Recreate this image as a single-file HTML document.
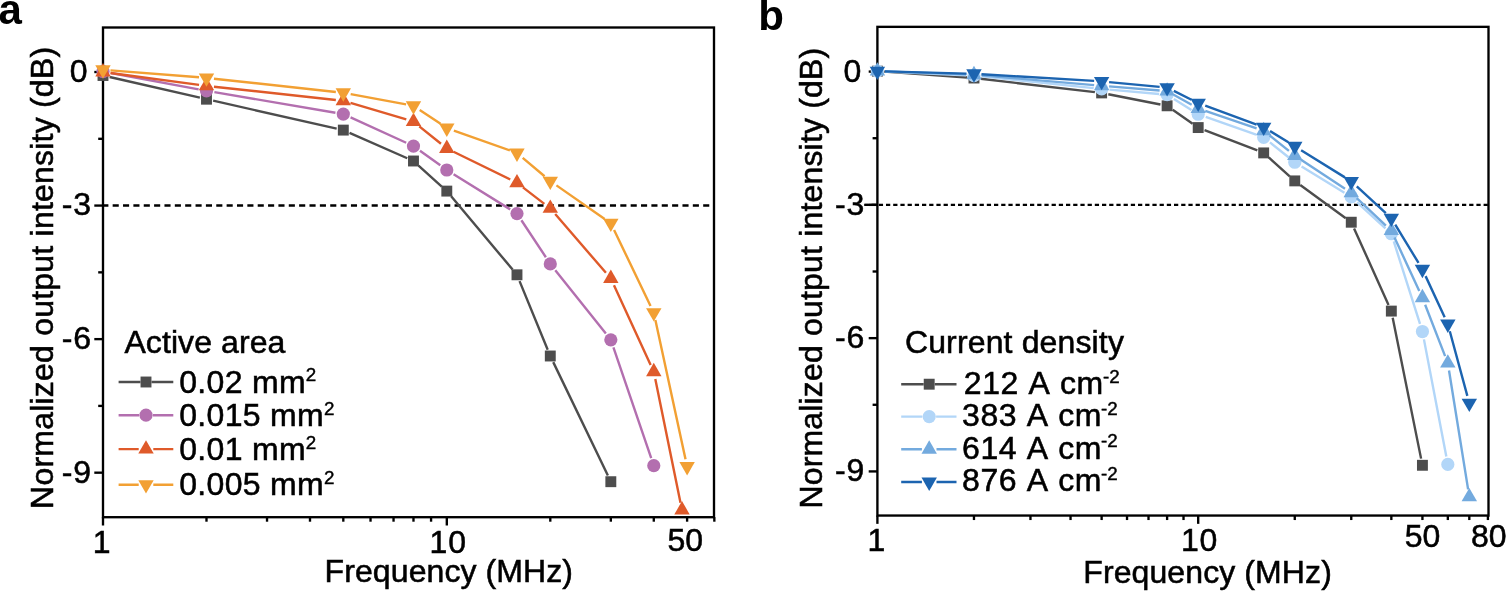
<!DOCTYPE html>
<html><head><meta charset="utf-8"><title>Figure</title>
<style>
html,body{margin:0;padding:0;background:#fff;}
svg{display:block}
text{font-family:'Liberation Sans', Arial, Helvetica, sans-serif;font-kerning:none;fill:#000}
.t{font-size:32px;stroke:#000;stroke-width:0.55px}
.s{font-size:18.8px;stroke:#000;stroke-width:0.45px}
.b{font-size:42px;font-weight:bold}
</style></head><body>
<svg width="1506" height="591" viewBox="0 0 1506 591">
<rect width="1506" height="591" fill="#fff"/>
<rect x="103.00" y="27.50" width="611.00" height="489.70" fill="none" stroke="#000" stroke-width="2.35"/>
<line x1="94.30" y1="72.02" x2="103.00" y2="72.02" stroke="#000" stroke-width="2.35"/>
<line x1="94.30" y1="205.57" x2="103.00" y2="205.57" stroke="#000" stroke-width="2.35"/>
<line x1="94.30" y1="339.13" x2="103.00" y2="339.13" stroke="#000" stroke-width="2.35"/>
<line x1="94.30" y1="472.68" x2="103.00" y2="472.68" stroke="#000" stroke-width="2.35"/>
<line x1="98.20" y1="138.80" x2="103.00" y2="138.80" stroke="#000" stroke-width="2.35"/>
<line x1="98.20" y1="272.35" x2="103.00" y2="272.35" stroke="#000" stroke-width="2.35"/>
<line x1="98.20" y1="405.90" x2="103.00" y2="405.90" stroke="#000" stroke-width="2.35"/>
<line x1="103.00" y1="517.20" x2="103.00" y2="525.50" stroke="#000" stroke-width="2.35"/>
<line x1="446.80" y1="517.20" x2="446.80" y2="525.50" stroke="#000" stroke-width="2.35"/>
<line x1="206.49" y1="517.20" x2="206.49" y2="521.70" stroke="#000" stroke-width="2.35"/>
<line x1="267.03" y1="517.20" x2="267.03" y2="521.70" stroke="#000" stroke-width="2.35"/>
<line x1="309.99" y1="517.20" x2="309.99" y2="521.70" stroke="#000" stroke-width="2.35"/>
<line x1="343.31" y1="517.20" x2="343.31" y2="521.70" stroke="#000" stroke-width="2.35"/>
<line x1="370.53" y1="517.20" x2="370.53" y2="521.70" stroke="#000" stroke-width="2.35"/>
<line x1="393.54" y1="517.20" x2="393.54" y2="521.70" stroke="#000" stroke-width="2.35"/>
<line x1="413.48" y1="517.20" x2="413.48" y2="521.70" stroke="#000" stroke-width="2.35"/>
<line x1="431.07" y1="517.20" x2="431.07" y2="521.70" stroke="#000" stroke-width="2.35"/>
<line x1="550.29" y1="517.20" x2="550.29" y2="521.70" stroke="#000" stroke-width="2.35"/>
<line x1="610.83" y1="517.20" x2="610.83" y2="521.70" stroke="#000" stroke-width="2.35"/>
<line x1="653.79" y1="517.20" x2="653.79" y2="521.70" stroke="#000" stroke-width="2.35"/>
<line x1="687.11" y1="517.20" x2="687.11" y2="521.70" stroke="#000" stroke-width="2.35"/>
<line x1="714.33" y1="517.20" x2="714.33" y2="521.70" stroke="#000" stroke-width="2.35"/>
<line x1="102.30" y1="205.57" x2="714.00" y2="205.57" stroke="#000" stroke-width="2.4" stroke-dasharray="6.1 4.26"/>
<path d="M109.63 77.02L199.87 97.68M213.13 100.70L336.67 128.60M349.53 132.84L407.26 158.26M418.53 165.56L441.75 186.54M451.17 196.31L512.61 269.59M519.56 281.09L547.71 349.71M553.24 362.13L607.88 475.57" fill="none" stroke="#4D4D4D" stroke-width="2.4"/>
<rect x="97.55" y="70.05" width="10.90" height="10.90" fill="#4D4D4D"/>
<rect x="201.04" y="93.75" width="10.90" height="10.90" fill="#4D4D4D"/>
<rect x="337.86" y="124.65" width="10.90" height="10.90" fill="#4D4D4D"/>
<rect x="408.03" y="155.55" width="10.90" height="10.90" fill="#4D4D4D"/>
<rect x="441.35" y="185.65" width="10.90" height="10.90" fill="#4D4D4D"/>
<rect x="511.53" y="269.35" width="10.90" height="10.90" fill="#4D4D4D"/>
<rect x="544.84" y="350.55" width="10.90" height="10.90" fill="#4D4D4D"/>
<rect x="605.38" y="476.25" width="10.90" height="10.90" fill="#4D4D4D"/>
<path d="M110.86 72.97L198.63 89.33M214.38 92.14L335.42 112.76M350.58 117.42L406.20 142.78M419.98 150.76L440.30 165.34M453.60 174.22L510.18 209.38M521.39 220.27L545.88 257.23M555.28 270.15L605.85 333.55M613.42 347.37L651.21 458.13" fill="none" stroke="#B36FAF" stroke-width="2.4"/>
<circle cx="103.00" cy="71.50" r="6.6" fill="#B36FAF"/>
<circle cx="206.49" cy="90.80" r="6.6" fill="#B36FAF"/>
<circle cx="343.31" cy="114.10" r="6.6" fill="#B36FAF"/>
<circle cx="413.48" cy="146.10" r="6.6" fill="#B36FAF"/>
<circle cx="446.80" cy="170.00" r="6.6" fill="#B36FAF"/>
<circle cx="516.98" cy="213.60" r="6.6" fill="#B36FAF"/>
<circle cx="550.29" cy="263.90" r="6.6" fill="#B36FAF"/>
<circle cx="610.83" cy="339.80" r="6.6" fill="#B36FAF"/>
<circle cx="653.79" cy="465.70" r="6.6" fill="#B36FAF"/>
<path d="M110.43 73.00L199.06 84.90M213.95 86.71L335.85 99.99M350.50 102.93L406.29 119.47M419.32 126.31L440.96 143.79M453.54 151.79L510.24 179.51M522.92 187.37L544.35 203.83M555.20 214.08L605.93 272.82M613.97 285.31L650.65 364.89M655.29 379.05L680.50 502.65" fill="none" stroke="#DF5A2A" stroke-width="2.4"/>
<polygon points="103.00,63.10 110.71,76.45 95.29,76.45" fill="#DF5A2A"/>
<polygon points="206.49,77.00 214.20,90.35 198.79,90.35" fill="#DF5A2A"/>
<polygon points="343.31,91.90 351.01,105.25 335.60,105.25" fill="#DF5A2A"/>
<polygon points="413.48,112.70 421.19,126.05 405.77,126.05" fill="#DF5A2A"/>
<polygon points="446.80,139.60 454.51,152.95 439.09,152.95" fill="#DF5A2A"/>
<polygon points="516.98,173.90 524.68,187.25 509.27,187.25" fill="#DF5A2A"/>
<polygon points="550.29,199.50 558.00,212.85 542.59,212.85" fill="#DF5A2A"/>
<polygon points="610.83,269.60 618.54,282.95 603.13,282.95" fill="#DF5A2A"/>
<polygon points="653.79,362.80 661.50,376.15 646.08,376.15" fill="#DF5A2A"/>
<polygon points="682.00,501.10 689.71,514.45 674.29,514.45" fill="#DF5A2A"/>
<path d="M110.48 70.39L199.02 77.31M213.95 78.71L335.85 91.99M350.68 94.17L406.11 104.43M419.72 109.96L440.56 123.84M453.87 130.52L509.91 150.48M522.71 157.84L544.56 176.26M556.45 185.38L604.68 218.92M614.08 229.96L650.54 305.94M655.38 320.03L685.52 459.17" fill="none" stroke="#F2A033" stroke-width="2.4"/>
<polygon points="103.00,78.70 110.71,65.35 95.29,65.35" fill="#F2A033"/>
<polygon points="206.49,86.80 214.20,73.45 198.79,73.45" fill="#F2A033"/>
<polygon points="343.31,101.70 351.01,88.35 335.60,88.35" fill="#F2A033"/>
<polygon points="413.48,114.70 421.19,101.35 405.77,101.35" fill="#F2A033"/>
<polygon points="446.80,136.90 454.51,123.55 439.09,123.55" fill="#F2A033"/>
<polygon points="516.98,161.90 524.68,148.55 509.27,148.55" fill="#F2A033"/>
<polygon points="550.29,190.00 558.00,176.65 542.59,176.65" fill="#F2A033"/>
<polygon points="610.83,232.10 618.54,218.75 603.13,218.75" fill="#F2A033"/>
<polygon points="653.79,321.60 661.50,308.25 646.08,308.25" fill="#F2A033"/>
<polygon points="687.11,475.40 694.81,462.05 679.40,462.05" fill="#F2A033"/>
<text x="69.85" y="81.92" class="t">0</text>
<text x="61.70" y="215.47" class="t" textLength="29.40" lengthAdjust="spacing">-3</text>
<text x="61.70" y="349.03" class="t" textLength="29.40" lengthAdjust="spacing">-6</text>
<text x="61.70" y="482.58" class="t" textLength="29.40" lengthAdjust="spacing">-9</text>
<text x="92.70" y="553.30" class="t">1</text>
<text x="429.60" y="553.30" class="t" textLength="36.40" lengthAdjust="spacing">10</text>
<text x="667.50" y="550.80" class="t">50</text>
<text x="324.60" y="582.40" class="t" textLength="248.40" lengthAdjust="spacing">Frequency (MHz)</text>
<text transform="translate(52.80,508.90) rotate(-90)" class="t" textLength="462.00" lengthAdjust="spacing">Normalized output intensity (dB)</text>
<text x="124.40" y="353.00" class="t" textLength="161.00" lengthAdjust="spacing">Active area</text>
<path d="M118.60 382.00H140.50M151.50 382.00H173.30" stroke="#4D4D4D" stroke-width="2.4"/>
<rect x="140.55" y="376.55" width="10.90" height="10.90" fill="#4D4D4D"/>
<text x="179.25" y="392.60" class="t" textLength="126.30" lengthAdjust="spacing">0.02 mm</text>
<text x="305.85" y="381.40" class="s">2</text>
<path d="M118.60 415.20H139.10M152.90 415.20H173.30" stroke="#B36FAF" stroke-width="2.4"/>
<circle cx="146.00" cy="415.20" r="6.6" fill="#B36FAF"/>
<text x="179.25" y="426.30" class="t" textLength="144.45" lengthAdjust="spacing">0.015 mm</text>
<text x="324.00" y="415.10" class="s">2</text>
<path d="M118.60 449.10H138.70M153.30 449.10H173.30" stroke="#DF5A2A" stroke-width="2.4"/>
<polygon points="146.00,440.20 153.71,453.55 138.29,453.55" fill="#DF5A2A"/>
<text x="179.25" y="460.00" class="t" textLength="126.30" lengthAdjust="spacing">0.01 mm</text>
<text x="305.85" y="448.80" class="s">2</text>
<path d="M118.60 484.70H138.70M153.30 484.70H173.30" stroke="#F2A033" stroke-width="2.4"/>
<polygon points="146.00,493.60 153.71,480.25 138.29,480.25" fill="#F2A033"/>
<text x="179.25" y="495.30" class="t" textLength="144.45" lengthAdjust="spacing">0.005 mm</text>
<text x="324.00" y="484.10" class="s">2</text>
<text x="-1.60" y="24.20" class="b">a</text>
<rect x="877.40" y="26.85" width="611.10" height="488.70" fill="none" stroke="#000" stroke-width="2.35"/>
<line x1="868.70" y1="71.58" x2="877.40" y2="71.58" stroke="#000" stroke-width="2.35"/>
<line x1="868.70" y1="204.86" x2="877.40" y2="204.86" stroke="#000" stroke-width="2.35"/>
<line x1="868.70" y1="338.14" x2="877.40" y2="338.14" stroke="#000" stroke-width="2.35"/>
<line x1="868.70" y1="471.42" x2="877.40" y2="471.42" stroke="#000" stroke-width="2.35"/>
<line x1="872.60" y1="138.22" x2="877.40" y2="138.22" stroke="#000" stroke-width="2.35"/>
<line x1="872.60" y1="271.50" x2="877.40" y2="271.50" stroke="#000" stroke-width="2.35"/>
<line x1="872.60" y1="404.78" x2="877.40" y2="404.78" stroke="#000" stroke-width="2.35"/>
<line x1="877.40" y1="515.55" x2="877.40" y2="523.85" stroke="#000" stroke-width="2.35"/>
<line x1="1198.20" y1="515.55" x2="1198.20" y2="523.85" stroke="#000" stroke-width="2.35"/>
<line x1="973.97" y1="515.55" x2="973.97" y2="520.05" stroke="#000" stroke-width="2.35"/>
<line x1="1030.46" y1="515.55" x2="1030.46" y2="520.05" stroke="#000" stroke-width="2.35"/>
<line x1="1070.54" y1="515.55" x2="1070.54" y2="520.05" stroke="#000" stroke-width="2.35"/>
<line x1="1101.63" y1="515.55" x2="1101.63" y2="520.05" stroke="#000" stroke-width="2.35"/>
<line x1="1127.03" y1="515.55" x2="1127.03" y2="520.05" stroke="#000" stroke-width="2.35"/>
<line x1="1148.51" y1="515.55" x2="1148.51" y2="520.05" stroke="#000" stroke-width="2.35"/>
<line x1="1167.11" y1="515.55" x2="1167.11" y2="520.05" stroke="#000" stroke-width="2.35"/>
<line x1="1183.52" y1="515.55" x2="1183.52" y2="520.05" stroke="#000" stroke-width="2.35"/>
<line x1="1294.77" y1="515.55" x2="1294.77" y2="520.05" stroke="#000" stroke-width="2.35"/>
<line x1="1351.26" y1="515.55" x2="1351.26" y2="520.05" stroke="#000" stroke-width="2.35"/>
<line x1="1391.34" y1="515.55" x2="1391.34" y2="520.05" stroke="#000" stroke-width="2.35"/>
<line x1="1422.43" y1="515.55" x2="1422.43" y2="520.05" stroke="#000" stroke-width="2.35"/>
<line x1="1447.83" y1="515.55" x2="1447.83" y2="520.05" stroke="#000" stroke-width="2.35"/>
<line x1="1469.31" y1="515.55" x2="1469.31" y2="520.05" stroke="#000" stroke-width="2.35"/>
<line x1="1487.91" y1="515.55" x2="1487.91" y2="520.05" stroke="#000" stroke-width="2.35"/>
<line x1="864.40" y1="204.86" x2="1488.50" y2="204.86" stroke="#000" stroke-width="2.15" stroke-dasharray="4.25 2.95"/>
<line x1="864.40" y1="204.86" x2="877.40" y2="204.86" stroke="#000" stroke-width="2.15"/>
<path d="M884.18 71.62L967.19 77.54M980.72 78.81L1094.88 92.12M1108.30 94.22L1160.44 104.48M1172.68 109.70L1192.63 123.67M1204.54 130.02L1257.34 150.45M1268.73 157.45L1289.72 176.34M1300.26 184.91L1345.77 218.21M1354.06 228.42L1388.55 304.89M1392.68 317.76L1421.09 458.62" fill="none" stroke="#4D4D4D" stroke-width="2.4"/>
<rect x="871.95" y="65.69" width="10.90" height="10.90" fill="#4D4D4D"/>
<rect x="968.52" y="72.57" width="10.90" height="10.90" fill="#4D4D4D"/>
<rect x="1096.18" y="87.46" width="10.90" height="10.90" fill="#4D4D4D"/>
<rect x="1161.66" y="100.35" width="10.90" height="10.90" fill="#4D4D4D"/>
<rect x="1192.75" y="122.12" width="10.90" height="10.90" fill="#4D4D4D"/>
<rect x="1258.23" y="147.45" width="10.90" height="10.90" fill="#4D4D4D"/>
<rect x="1289.32" y="175.44" width="10.90" height="10.90" fill="#4D4D4D"/>
<rect x="1345.81" y="216.77" width="10.90" height="10.90" fill="#4D4D4D"/>
<rect x="1385.89" y="305.64" width="10.90" height="10.90" fill="#4D4D4D"/>
<rect x="1416.98" y="459.84" width="10.90" height="10.90" fill="#4D4D4D"/>
<path d="M885.39 71.50L965.98 75.21M981.93 76.41L1093.67 88.08M1109.60 89.61L1159.14 93.98M1173.88 98.95L1191.43 109.98M1205.74 116.90L1256.14 134.68M1269.93 142.35L1288.52 157.23M1301.59 166.41L1344.44 192.71M1357.15 202.31L1385.45 228.36M1393.77 241.40L1420.01 323.91M1423.93 339.39L1446.33 456.54" fill="none" stroke="#B2D6F8" stroke-width="2.4"/>
<circle cx="877.40" cy="71.14" r="6.6" fill="#B2D6F8"/>
<circle cx="973.97" cy="75.58" r="6.6" fill="#B2D6F8"/>
<circle cx="1101.63" cy="88.91" r="6.6" fill="#B2D6F8"/>
<circle cx="1167.11" cy="94.69" r="6.6" fill="#B2D6F8"/>
<circle cx="1198.20" cy="114.24" r="6.6" fill="#B2D6F8"/>
<circle cx="1263.68" cy="137.35" r="6.6" fill="#B2D6F8"/>
<circle cx="1294.77" cy="162.23" r="6.6" fill="#B2D6F8"/>
<circle cx="1351.26" cy="196.89" r="6.6" fill="#B2D6F8"/>
<circle cx="1391.34" cy="233.77" r="6.6" fill="#B2D6F8"/>
<circle cx="1422.43" cy="331.53" r="6.6" fill="#B2D6F8"/>
<circle cx="1447.83" cy="464.40" r="6.6" fill="#B2D6F8"/>
<path d="M884.89 71.41L966.48 74.42M981.44 75.34L1094.16 85.15M1109.10 86.41L1159.64 90.52M1173.66 94.78L1191.65 104.81M1205.30 110.87L1256.58 128.27M1269.54 135.37L1288.92 150.88M1301.03 159.70L1345.00 188.76M1356.72 198.04L1385.88 225.52M1394.49 237.47L1419.28 290.96M1425.15 304.75L1445.11 356.09M1449.02 370.49L1468.12 489.43" fill="none" stroke="#73AADE" stroke-width="2.4"/>
<polygon points="877.40,62.24 885.11,75.59 869.69,75.59" fill="#73AADE"/>
<polygon points="973.97,65.79 981.68,79.14 966.26,79.14" fill="#73AADE"/>
<polygon points="1101.63,76.90 1109.34,90.25 1093.92,90.25" fill="#73AADE"/>
<polygon points="1167.11,82.23 1174.82,95.58 1159.40,95.58" fill="#73AADE"/>
<polygon points="1198.20,99.56 1205.91,112.91 1190.49,112.91" fill="#73AADE"/>
<polygon points="1263.68,121.78 1271.39,135.13 1255.97,135.13" fill="#73AADE"/>
<polygon points="1294.77,146.67 1302.48,160.02 1287.06,160.02" fill="#73AADE"/>
<polygon points="1351.26,183.99 1358.97,197.34 1343.55,197.34" fill="#73AADE"/>
<polygon points="1391.34,221.76 1399.05,235.11 1383.63,235.11" fill="#73AADE"/>
<polygon points="1422.43,288.86 1430.14,302.21 1414.72,302.21" fill="#73AADE"/>
<polygon points="1447.83,354.18 1455.54,367.53 1440.12,367.53" fill="#73AADE"/>
<polygon points="1469.31,487.94 1477.02,501.29 1461.60,501.29" fill="#73AADE"/>
<path d="M884.90 71.34L966.47 73.60M981.46 74.25L1094.14 80.91M1109.10 82.07L1159.64 86.87M1173.82 90.93L1191.49 99.78M1205.24 105.71L1256.64 124.55M1270.07 131.05L1288.38 142.31M1301.14 150.19L1344.89 177.38M1356.78 186.42L1385.82 213.14M1395.24 224.63L1418.53 262.92M1425.59 276.12L1444.67 317.18M1449.80 331.22L1467.34 395.84" fill="none" stroke="#1C64B0" stroke-width="2.4"/>
<polygon points="877.40,80.04 885.11,66.69 869.69,66.69" fill="#1C64B0"/>
<polygon points="973.97,82.70 981.68,69.35 966.26,69.35" fill="#1C64B0"/>
<polygon points="1101.63,90.26 1109.34,76.91 1093.92,76.91" fill="#1C64B0"/>
<polygon points="1167.11,96.48 1174.82,83.13 1159.40,83.13" fill="#1C64B0"/>
<polygon points="1198.20,112.03 1205.91,98.68 1190.49,98.68" fill="#1C64B0"/>
<polygon points="1263.68,136.03 1271.39,122.68 1255.97,122.68" fill="#1C64B0"/>
<polygon points="1294.77,155.13 1302.48,141.78 1287.06,141.78" fill="#1C64B0"/>
<polygon points="1351.26,190.24 1358.97,176.89 1343.55,176.89" fill="#1C64B0"/>
<polygon points="1391.34,227.12 1399.05,213.77 1383.63,213.77" fill="#1C64B0"/>
<polygon points="1422.43,278.22 1430.14,264.87 1414.72,264.87" fill="#1C64B0"/>
<polygon points="1447.83,332.88 1455.54,319.53 1440.12,319.53" fill="#1C64B0"/>
<polygon points="1469.31,411.98 1477.02,398.63 1461.60,398.63" fill="#1C64B0"/>
<text x="843.50" y="81.63" class="t">0</text>
<text x="834.90" y="214.91" class="t" textLength="29.40" lengthAdjust="spacing">-3</text>
<text x="834.90" y="348.19" class="t" textLength="29.40" lengthAdjust="spacing">-6</text>
<text x="834.90" y="481.47" class="t" textLength="29.40" lengthAdjust="spacing">-9</text>
<text x="867.40" y="550.70" class="t">1</text>
<text x="1181.00" y="550.70" class="t" textLength="36.40" lengthAdjust="spacing">10</text>
<text x="1404.80" y="546.90" class="t">50</text>
<text x="1471.00" y="546.90" class="t">80</text>
<text x="1083.30" y="582.80" class="t" textLength="248.50" lengthAdjust="spacing">Frequency (MHz)</text>
<text transform="translate(821.80,508.60) rotate(-90)" class="t" textLength="460.80" lengthAdjust="spacing">Normalized output intensity (dB)</text>
<text x="904.90" y="353.30" class="t" textLength="219.00" lengthAdjust="spacing">Current density</text>
<path d="M901.20 384.20H923.70M934.70 384.20H956.50" stroke="#4D4D4D" stroke-width="2.4"/>
<rect x="923.75" y="378.75" width="10.90" height="10.90" fill="#4D4D4D"/>
<text x="963.80" y="393.80" class="t" textLength="139.40" lengthAdjust="spacing">212 A cm</text>
<text x="1102.90" y="382.60" class="s">-2</text>
<path d="M901.20 416.60H922.30M936.10 416.60H956.50" stroke="#B2D6F8" stroke-width="2.4"/>
<circle cx="929.20" cy="416.60" r="6.6" fill="#B2D6F8"/>
<text x="962.00" y="426.40" class="t" textLength="139.40" lengthAdjust="spacing">383 A cm</text>
<text x="1101.10" y="415.20" class="s">-2</text>
<path d="M901.20 449.20H921.90M936.50 449.20H956.50" stroke="#73AADE" stroke-width="2.4"/>
<polygon points="929.20,440.30 936.91,453.65 921.49,453.65" fill="#73AADE"/>
<text x="962.00" y="458.60" class="t" textLength="139.40" lengthAdjust="spacing">614 A cm</text>
<text x="1101.10" y="447.40" class="s">-2</text>
<path d="M901.20 482.00H921.90M936.50 482.00H956.50" stroke="#1C64B0" stroke-width="2.4"/>
<polygon points="929.20,490.90 936.91,477.55 921.49,477.55" fill="#1C64B0"/>
<text x="962.00" y="491.20" class="t" textLength="139.40" lengthAdjust="spacing">876 A cm</text>
<text x="1101.10" y="480.00" class="s">-2</text>
<text x="758.20" y="30.20" class="b">b</text>
</svg>
</body></html>
